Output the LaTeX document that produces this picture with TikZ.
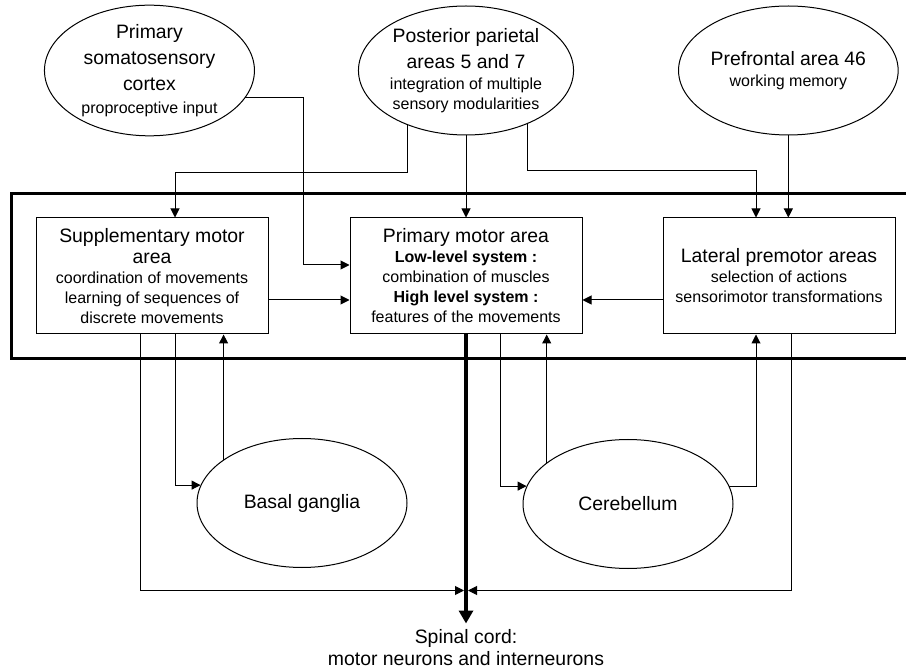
\documentclass[tikz,border=0pt]{standalone}
\usepackage{fontspec}
\setmainfont{Liberation Sans}
\usetikzlibrary{positioning,fit,arrows.meta,shapes.geometric}
\newcommand{\subtxt}{\fontsize{16}{19}\selectfont}

\begin{document}
\begin{tikzpicture}[
    x=1pt, y=-1pt,
    font=\fontsize{19.4}{20}\selectfont,
    area/.style={draw, line width=1pt, align=center,
        minimum width=232pt, minimum height=116pt, inner sep=2pt},
    lobe/.style={draw, ellipse, line width=1pt, align=center,
        minimum width=210pt, minimum height=129pt, inner sep=0pt},
    ar/.style={-{Triangle[length=9pt, width=9pt]}, line width=1pt},
    main/.style={-{Triangle[length=13pt, width=14pt]}, line width=3.3pt},
    frame/.style={draw, line width=2.7pt, inner sep=24pt},
]
    \useasboundingbox (0,0) rectangle (906,668);

    % ---------- motor cortex areas ----------
    \node[area] (sma) at (152,276)
        {Supplementary motor\\[1pt]area\\{\subtxt coordination of movements}\\
         {\subtxt learning of sequences of}\\{\subtxt discrete movements}};
    \node[area, right=81pt of sma] (pm)
        {Primary motor area\\{\subtxt\bfseries Low-level system :}\\
         {\subtxt combination of muscles}\\{\subtxt\bfseries High level system :}\\
         {\subtxt features of the movements}};
    \node[area, right=80pt of pm] (lp)
        {Lateral premotor areas\\{\subtxt selection of actions}\\
         {\subtxt sensorimotor transformations}};
    \node[frame, fit=(sma)(pm)(lp)] (cortex) {};

    % ---------- inputs ----------
    \node[lobe, above=82pt of pm] (pp)
        {Posterior parietal\\[6pt]areas 5 and 7\\[1pt]{\subtxt integration of multiple}\\
         {\subtxt sensory modularities}};
    \node[lobe, left=103pt of pp] (ps)
        {Primary\\[6pt]somatosensory\\[6pt]cortex\\[3pt]{\subtxt proproceptive input}};
    \node[lobe, right=104pt of pp] (pf)
        {Prefrontal area 46\\[1pt]{\subtxt working memory}};

    % ---------- loops ----------
    \node[lobe] (bg) at (302,503) {Basal ganglia};
    \node[lobe] (cb) at (628,504) {Cerebellum};

    % ---------- output ----------
    \coordinate[below=256pt of pm.south] (jn);
    \coordinate[below=289pt of pm.south] (tip);
    \node[below=6pt of tip, align=center, inner sep=0pt] (cord)
        {Spinal cord:\\[2pt]motor neurons and interneurons};

    \draw[ar] (ps.-16) -| ([xshift=-46pt, yshift=11pt]pm.west) -- ([yshift=11pt]pm.west);
    \draw[ar] (pp.223) -- ++(0,47) -| ([xshift=23pt]sma.north);
    \draw[ar] (pp.south) -- (pm.north);
    \draw[ar] (pp.-41.5) -- ++(0,47) -| ([xshift=-23pt]lp.north);
    \draw[ar] (pf.south) -- (pf.south |- lp.north);
    \draw[ar] ([yshift=-24pt]sma.east) -- ([yshift=-24pt]pm.west);
    \draw[ar] ([yshift=-24pt]lp.west) -- ([yshift=-24pt]pm.east);
    \draw[ar] ([xshift=23pt]sma.south) |- (bg.170);
    \draw[ar] (bg.151) -- (bg.151 |- sma.south);
    \draw[ar] ([xshift=34pt]pm.south) |- (cb.170);
    \draw[ar] (cb.153) -- (cb.153 |- pm.south);
    \draw[ar] (cb.10) -| ([xshift=-23pt]lp.south);
    \draw[ar] ([xshift=-12pt]sma.south) |- ([xshift=-2pt]jn);
    \draw[ar] ([xshift=12pt]lp.south) |- ([xshift=2pt]jn);
    \draw[main] (pm.south) -- (tip);
\end{tikzpicture}
\end{document}
